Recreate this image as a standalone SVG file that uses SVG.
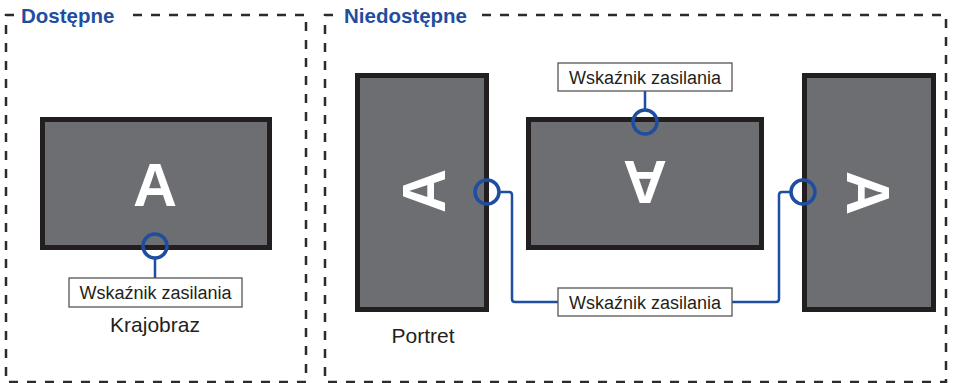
<svg xmlns="http://www.w3.org/2000/svg" width="955" height="383" viewBox="0 0 955 383">
<style>
.frame{fill:none;stroke:#2b2b2b;stroke-width:2.5;stroke-dasharray:9 9}
.title{font-family:"Liberation Sans",Arial,sans-serif;font-weight:bold;font-size:20.5px;fill:#1f4ea1}
.mon{fill:#6d6e71;stroke:#231f20;stroke-width:5}
.big{font-family:"Liberation Sans",Arial,sans-serif;font-weight:bold;font-size:61px;fill:#ffffff;text-anchor:middle}
.led{fill:none;stroke:#1f4ea1;stroke-width:3.5}
.conn{fill:none;stroke:#1f4ea1;stroke-width:2.5}
.lbox{fill:#ffffff;stroke:#555555;stroke-width:1.3}
.ltext{font-family:"Liberation Sans",Arial,sans-serif;font-size:18px;fill:#231f20;text-anchor:middle}
.cap{font-family:"Liberation Sans",Arial,sans-serif;font-size:21px;fill:#231f20;text-anchor:middle}
</style>
<g id="panel-available">
<path class="frame" d="M 14 15 H 6 V 382 H 306 V 15 H 126"/>
<text class="title" x="21" y="23">Dostępne</text>
</g>
<g id="panel-unavailable">
<path class="frame" d="M 333 15 H 325 V 382 H 946 V 15 H 478"/>
<text class="title" x="344" y="23">Niedostępne</text>
</g>
<g id="landscape">
<rect class="mon" x="42.5" y="119.5" width="227" height="128"/>
<text class="big" x="155" y="206">A</text>
<text class="cap" x="155" y="332">Krajobraz</text>
</g>
<g id="portrait-left">
<rect class="mon" x="357.5" y="75.5" width="129" height="234"/>
<text class="big" transform="translate(422.5 191) rotate(-90)" x="0" y="22">A</text>
<text class="cap" x="423" y="343">Portret</text>
</g>
<g id="upside-down">
<rect class="mon" x="528.5" y="119.5" width="233" height="128"/>
<text class="big" transform="translate(645 183) rotate(180)" x="0" y="22">A</text>
</g>
<g id="portrait-right">
<rect class="mon" x="804.5" y="75.5" width="129" height="234"/>
<text class="big" transform="translate(869 193) rotate(90)" x="0" y="22">A</text>
</g>
<g id="connectors">
<line class="conn" x1="155" y1="258" x2="155" y2="278"/>
<line class="conn" x1="645" y1="110" x2="645" y2="91"/>
<path class="conn" d="M 499 192 H 509 Q 512 192 512 195 V 299 Q 512 302 515 302 H 558"/>
<path class="conn" d="M 732 302 H 776 Q 779 302 779 299 V 195 Q 779 192 782 192 H 791"/>
<circle class="led" cx="155" cy="246" r="12"/>
<circle class="led" cx="645" cy="122" r="12"/>
<circle class="led" cx="487" cy="192" r="12"/>
<circle class="led" cx="803" cy="192" r="12"/>
</g>
<g id="label-landscape">
<rect class="lbox" x="69" y="278" width="173" height="29"/>
<text class="ltext" x="155.5" y="299">Wskaźnik zasilania</text>
</g>
<g id="label-top">
<rect class="lbox" x="558" y="63" width="174" height="28"/>
<text class="ltext" x="645" y="83.5">Wskaźnik zasilania</text>
</g>
<g id="label-bottom">
<rect class="lbox" x="558" y="288" width="174" height="28"/>
<text class="ltext" x="645" y="308.5">Wskaźnik zasilania</text>
</g>
</svg>
